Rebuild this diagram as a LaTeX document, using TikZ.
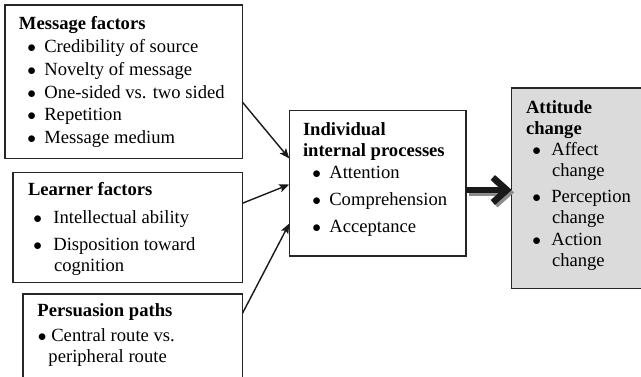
\documentclass[tikz,border=0pt]{standalone}
\usepackage{fontspec}
\setmainfont{Liberation Serif}
\usetikzlibrary{arrows.meta,calc}
\newcommand\bul[2]{\hspace*{#1}$\bullet$\hspace*{#2}}
\newcommand\fst{\rule{0pt}{14pt}}
\begin{document}
\begin{tikzpicture}[x=1pt,y=-1pt,
  panel/.style={draw=black!85, line width=1.1pt, anchor=north west, inner sep=0pt, outer sep=0pt},
  txt/.style={anchor=north west, inner sep=0pt, outer sep=0pt, align=left, font=\fontsize{18.6}{21}\selectfont},
  thin/.style={-{Stealth[length=10pt,width=8pt,inset=2pt]}, line width=1.4pt, draw=black!90},
  fat/.style={-{Straight Barb[length=14pt,width=25pt]}, line width=6.5pt}
]
\useasboundingbox (0,0) rectangle (641,377);
% boxes
\node[panel, minimum width=237.3pt, minimum height=153.3pt] (msg) at (5,5) {};
\node[panel, minimum width=229.3pt, minimum height=110pt] (lrn) at (13,172.3) {};
\node[panel, minimum width=219.5pt, minimum height=84pt] (per) at (23,294) {};
\node[panel, minimum width=176.7pt, minimum height=145.5pt] (ind) at (289.3,110.5) {};
\node[panel, fill=black!14, minimum width=130.3pt, minimum height=200.5pt] (att) at (511.7,88) {};
% texts
\node[txt] (msgt) at (19,16) {\fst\textbf{Message factors}\\[1.7pt]
\bul{8.35pt}{8.35pt}Credibility of source\\[1.7pt]
\bul{8.35pt}{8.35pt}Novelty of message\\[1.7pt]
\bul{8.35pt}{8.35pt}One-sided vs. two sided\\[1.7pt]
\bul{8.35pt}{8.35pt}Repetition\\[1.7pt]
\bul{8.35pt}{8.35pt}Message medium};
\node[txt] (lrnt) at (28,182) {\fst\textbf{Learner factors}\\[6.3pt]
\bul{5.35pt}{11.35pt}Intellectual ability\\[6.3pt]
\bul{5.35pt}{11.35pt}Disposition toward\\
\hspace*{26pt}cognition};
\node[txt] (pert) at (37.5,302.7) {\fst\textbf{Persuasion paths}\\[4pt]
\bul{0.35pt}{4.85pt}Central route vs.\\
\hspace*{11pt}peripheral route};
\node[txt] (indt) at (303,121) {\fst\textbf{Individual}\\[0.7pt]
\textbf{internal processes}\\[0.6pt]
\bul{9.35pt}{8.35pt}Attention\\[6pt]
\bul{9.35pt}{8.35pt}Comprehension\\[6pt]
\bul{9.35pt}{8.35pt}Acceptance};
\node[txt] (attt) at (526,99.3) {\fst\textbf{Attitude}\\
\textbf{change}\\
\bul{6.35pt}{10.35pt}Affect\\
\hspace*{26pt}change\\[5pt]
\bul{6.35pt}{10.35pt}Perception\\
\hspace*{26pt}change\\[1pt]
\bul{6.35pt}{10.35pt}Action\\
\hspace*{26pt}change};
% connectors
\coordinate (a1s) at ($(msg.north east)+(0,97)$);
\coordinate (a1e) at ($(ind.north west)+(0,48)$);
\coordinate (a2s) at ($(lrn.north east)+(0,31)$);
\coordinate (a2e) at ($(ind.north west)+(0,74)$);
\coordinate (a3s) at ($(per.north east)+(0,19.3)$);
\coordinate (a3e) at ($(ind.north west)+(0,113)$);
\draw[thin] (a1s) -- (a1e);
\draw[thin] (a2s) -- (a2e);
\draw[thin] (a3s) -- (a3e);
\coordinate (fs) at ($(ind.north east)+(0,79.5)$);
\coordinate (fe) at ($(att.north west)+(0,102)$);
\draw[fat, draw=black!45] ($(fs)+(2.5,2.5)$) -- ($(fe)+(2.5,2.5)$);
\draw[fat, draw=black!90] (fs) -- (fe);
\end{tikzpicture}
\end{document}
